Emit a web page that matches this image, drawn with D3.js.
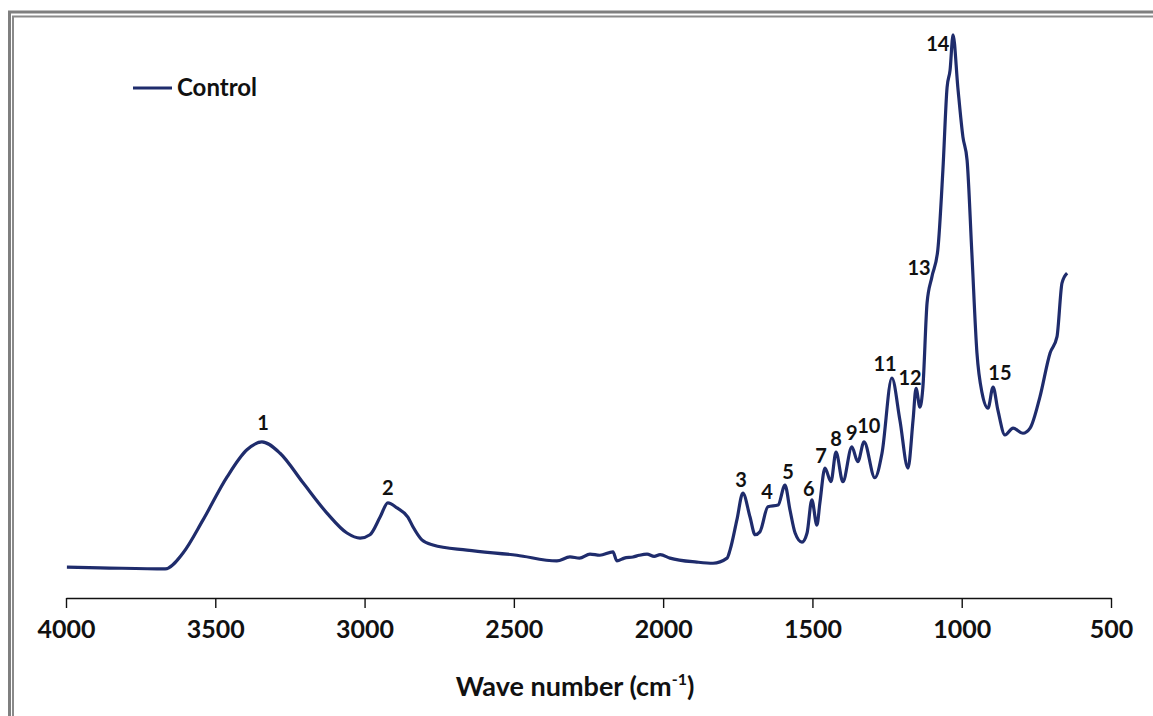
<!DOCTYPE html>
<html>
  <head>
    <meta charset="utf-8">
    <title>FTIR Control</title>
    <script src="https://d3js.org/d3.v7.min.js"></script>
    <style>
      body { margin: 0; background: #fff; }
      text { font-family: Lato, "Open Sans", sans-serif; font-weight: bold; fill: #111; }
    </style>
  </head>
  <body>
    <div id="chart"></div>
    <script>
      // spectrum (wave number in cm-1, absorbance in a.u.)
      const waveNumber = [3997, 3886, 3668, 3608, 3541, 3461, 3394, 3344, 3283, 3206,
        3126, 3059, 3015, 2982, 2948, 2922, 2891, 2855, 2838, 2808,
        2771, 2657, 2490, 2356, 2312, 2280, 2245, 2212, 2168, 2155,
        2130, 2101, 2080, 2054, 2030, 2010, 1977, 1887, 1833, 1786,
        1776, 1753, 1733, 1709, 1692, 1676, 1649, 1615, 1592, 1575,
        1558, 1535, 1518, 1502, 1485, 1475, 1458, 1438, 1421, 1398,
        1368, 1348, 1327, 1291, 1267, 1234, 1207, 1180, 1163, 1153,
        1140, 1130, 1116, 1100, 1080, 1063, 1049, 1039, 1029, 1013,
        996, 982, 966, 949, 932, 912, 895, 879, 855, 828,
        795, 771, 738, 704, 681, 664, 647];
      const absorbance = [0.054, 0.053, 0.051, 0.079, 0.137, 0.212, 0.260, 0.274, 0.254, 0.202,
        0.149, 0.114, 0.105, 0.111, 0.142, 0.167, 0.158, 0.142, 0.125, 0.102,
        0.093, 0.084, 0.075, 0.065, 0.072, 0.070, 0.077, 0.075, 0.081, 0.065,
        0.070, 0.072, 0.075, 0.077, 0.073, 0.076, 0.070, 0.063, 0.061, 0.070,
        0.084, 0.137, 0.184, 0.142, 0.111, 0.116, 0.160, 0.163, 0.198, 0.154,
        0.114, 0.098, 0.114, 0.172, 0.128, 0.167, 0.228, 0.204, 0.256, 0.204,
        0.265, 0.239, 0.274, 0.211, 0.254, 0.386, 0.312, 0.228, 0.312, 0.368,
        0.335, 0.370, 0.518, 0.563, 0.611, 0.751, 0.896, 0.926, 0.988, 0.896,
        0.809, 0.768, 0.605, 0.430, 0.360, 0.333, 0.370, 0.330, 0.286, 0.298,
        0.289, 0.298, 0.353, 0.430, 0.458, 0.553, 0.570];

      // numbered band labels (where each number sits)
      const peakIds = ["1", "2", "3", "4", "5", "6", "7", "8", "9", "10", "11", "12", "13", "14", "15"];
      const peakLabelWn = [3340, 2922, 1739, 1652, 1582, 1512, 1471, 1421, 1368, 1311, 1257, 1173, 1143, 1080, 872];
      const peakLabelA = [0.295, 0.181, 0.195, 0.174, 0.209, 0.179, 0.237, 0.267, 0.277, 0.289, 0.398, 0.374, 0.567, 0.960, 0.382];

      const xTicks = [4000, 3500, 3000, 2500, 2000, 1500, 1000, 500];
      const seriesName = "Control";

      const W = 1153, H = 716;
      const lineColor = "#1f2c6c";

      const svg = d3.select("#chart")
        .append("svg")
          .attr("width", W)
          .attr("height", H);

      // double gray frame
      svg.append("rect")
        .attr("x", 9.5).attr("y", 12)
        .attr("width", W + 20).attr("height", H + 20)
        .attr("fill", "none").attr("stroke", "#7f7f7f").attr("stroke-width", 3);
      svg.append("rect")
        .attr("x", 13).attr("y", 16.5)
        .attr("width", W + 20).attr("height", H + 20)
        .attr("fill", "none").attr("stroke", "#8a8a8a").attr("stroke-width", 2);

      const x = d3.scaleLinear()
        .domain([4000, 500])
        .range([66, 1111]);

      const y = d3.scaleLinear()
        .domain([0, 1])
        .range([598, 28]);

      const xAxis = svg.append("g")
        .attr("transform", `translate(0, ${y(0)})`)
        .call(d3.axisBottom(x).tickValues(xTicks).tickFormat(d3.format("d"))
          .tickSize(10).tickSizeOuter(0).tickPadding(12));
      xAxis.select(".domain").attr("stroke", "#111").attr("stroke-width", 1.4);
      xAxis.selectAll(".tick line").attr("stroke", "#111").attr("stroke-width", 1.4);
      xAxis.selectAll(".tick text")
        .attr("font-size", "25px")
        .attr("font-family", "Lato, sans-serif")
        .attr("font-weight", "bold")
        .attr("fill", "#111");

      const title = svg.append("text")
        .attr("x", 575).attr("y", 696)
        .attr("text-anchor", "middle")
        .attr("font-size", "27px");
      title.append("tspan").text("Wave number (cm");
      title.append("tspan").text("-1").attr("font-size", "16px").attr("dy", -11);
      title.append("tspan").text(")").attr("dy", 11);

      const spectrum = waveNumber.map((w, i) => ({w: w, a: absorbance[i]}));

      const line = d3.line()
        .x(d => x(d.w))
        .y(d => y(d.a))
        .curve(d3.curveMonotoneX);

      svg.append("path")
        .datum(spectrum)
        .attr("d", line)
        .attr("fill", "none")
        .attr("stroke", lineColor)
        .attr("stroke-width", 3.2)
        .attr("stroke-linejoin", "round");

      svg.selectAll(".peak")
        .data(peakIds)
        .join("text")
          .attr("class", "peak")
          .attr("x", (d, i) => x(peakLabelWn[i]))
          .attr("y", (d, i) => y(peakLabelA[i]))
          .attr("text-anchor", "middle")
          .attr("font-size", "20px")
          .text(d => d);

      // legend
      const legend = svg.append("g").attr("transform", "translate(133, 88)");
      legend.append("line")
        .attr("x1", 0).attr("x2", 39)
        .attr("stroke", lineColor).attr("stroke-width", 3);
      legend.append("text")
        .attr("x", 44).attr("y", 8)
        .attr("font-size", "24px")
        .text(seriesName);
    </script>
  </body>
</html>
